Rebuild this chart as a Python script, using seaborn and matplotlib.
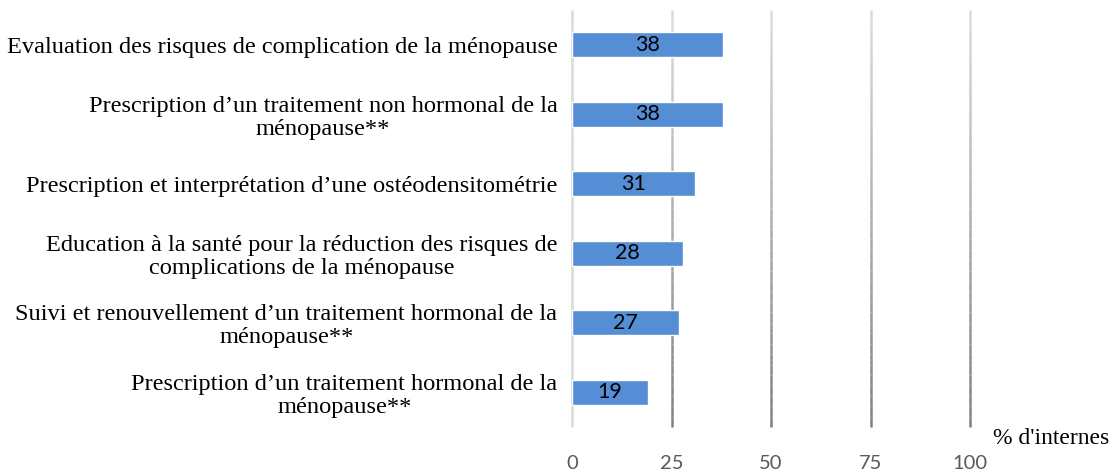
import numpy as np
import pandas as pd
import matplotlib
matplotlib.use("Agg")
import matplotlib.pyplot as plt
import seaborn as sns
from matplotlib.collections import LineCollection
from matplotlib.colors import LinearSegmentedColormap

categories = [
    "Evaluation des risques de complication de la ménopause",
    "Prescription d\u2019un traitement non hormonal de la\nménopause**",
    "Prescription et interprétation d\u2019une ostéodensitométrie",
    "Education à la santé pour la réduction des risques de\ncomplications de la ménopause",
    "Suivi et renouvellement d\u2019un traitement hormonal de la\nménopause**",
    "Prescription d\u2019un traitement hormonal de la\nménopause**",
]
values = [38, 38, 31, 28, 27, 19]
xticks = [0, 25, 50, 75, 100]

df = pd.DataFrame({"cat": categories, "val": values})

sns.set_style("white")
fig = plt.figure(figsize=(11.15, 4.74), dpi=100)
ax = fig.add_axes([0.513, 0.099, 0.357, 0.880])

sns.barplot(data=df, x="val", y="cat", orient="h", color="#558ED5",
            saturation=1, width=0.36, ax=ax, zorder=3)

ax.set_xlim(0, 100)
ylo, yhi = ax.get_ylim()

# gradient gridlines (light at top, darker at bottom)
cmap = LinearSegmentedColormap.from_list("g", ["#DCDCDC", "#808080"])
n = 40
ys = np.linspace(yhi, ylo, n + 1)
for xv in xticks:
    segs = [[(xv, ys[i]), (xv, ys[i + 1])] for i in range(n)]
    if xv == 0:
        cols = ["#D9D9D9"] * n
    else:
        cols = [cmap(i / (n - 1)) for i in range(n)]
    ax.add_collection(LineCollection(segs, colors=cols, linewidths=1.8,
                                     zorder=1, clip_on=False, capstyle="butt"))

for s in ax.spines.values():
    s.set_visible(False)

ax.set_xticks(xticks)
ax.set_xticklabels([str(t) for t in xticks], family="Lato", fontsize=14.5, color="#595959")
ax.tick_params(axis="x", length=0, pad=20)
ax.tick_params(axis="y", length=0, pad=10.5)
for lab in ax.get_yticklabels():
    lab.set_family("Liberation Serif")
    lab.set_fontsize(17.6)
    lab.set_color("black")
    lab.set_multialignment("center")
    lab.set_linespacing(1.12)
ax.set_xlabel("")
ax.set_ylabel("")

for cont in ax.containers:
    ax.bar_label(cont, label_type="center", family="Lato", fontsize=15.5, color="black")

fig.text(0.995, 0.075, "% d'internes", ha="right", va="center",
         family="Liberation Serif", fontsize=17, color="black")

fig.savefig("out.png", dpi=100)
